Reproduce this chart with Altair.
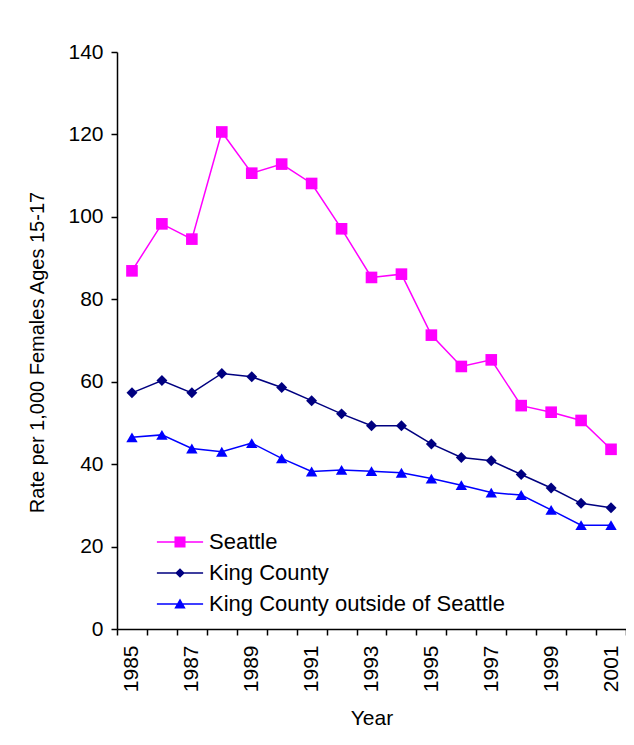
import altair as alt
import pandas as pd

years = list(range(1985, 2002))
seattle = [86.9, 98.3, 94.6, 120.6, 110.6, 112.8, 108.1, 97.1, 85.3, 86.1,
           71.3, 63.7, 65.3, 54.2, 52.6, 50.6, 43.6]
king_county = [57.3, 60.3, 57.3, 62.0, 61.2, 58.6, 55.4, 52.2, 49.3, 49.3,
               44.9, 41.6, 40.8, 37.5, 34.2, 30.5, 29.4]
outside_seattle = [46.5, 47.1, 43.8, 43.0, 45.1, 41.4, 38.2, 38.6, 38.3, 37.9,
                   36.5, 34.9, 33.1, 32.5, 28.9, 25.2, 25.2]
series_names = ["Seattle", "King County", "King County outside of Seattle"]
series_colors = ["#FF00FF", "#000080", "#0000FF"]
marker_shapes = ["square", "diamond", "triangle-up"]
marker_sizes = [135, 120, 130]
y_ticks = [0, 20, 40, 60, 80, 100, 120, 140]

# legend glyphs: a short line with the marker in its middle
LINE = "M-3.85,-0.13H3.85V0.13H-3.85Z "
legend_paths = [
    LINE + "M-0.92,-0.92H0.92V0.92H-0.92Z",
    LINE + "M0,-0.8L0.8,0L0,0.8L-0.8,0Z",
    LINE + "M0,-0.9L0.95,0.75L-0.95,0.75Z",
]

rows = []
for name, vals in zip(series_names, [seattle, king_county, outside_seattle]):
    for yr, v in zip(years, vals):
        rows.append({"Year": yr, "Rate": v, "Series": name})
df = pd.DataFrame(rows)

FONT = "Liberation Sans"

x_enc = alt.X(
    "Year:O",
    scale=alt.Scale(paddingInner=0, paddingOuter=0),
    axis=alt.Axis(
        title="Year",
        labelAngle=270,
        labelExpr="datum.value % 2 == 1 ? datum.label : ''",
        labelOverlap=False,
        tickBand="extent",
        tickSize=6,
        labelPadding=10,
        titlePadding=16,
        labelFontSize=21,
        titleFontSize=21,
    ),
)
y_enc = alt.Y(
    "Rate:Q",
    scale=alt.Scale(domain=[0, 140], nice=False),
    axis=alt.Axis(
        title="Rate per 1,000 Females Ages 15-17",
        values=y_ticks,
        grid=False,
        tickSize=6,
        labelPadding=8,
        titlePadding=20,
        titleY=300,
        labelFontSize=21,
        titleFontSize=20,
    ),
)

base = alt.Chart(df)

layers = []
for name, col in zip(series_names, series_colors):
    layers.append(
        base.transform_filter(alt.datum.Series == name)
        .mark_line(strokeWidth=1.5, color=col)
        .encode(x=x_enc, y=y_enc)
    )
for name, col, shp, sz in zip(series_names, series_colors, marker_shapes, marker_sizes):
    layers.append(
        base.transform_filter(alt.datum.Series == name)
        .mark_point(filled=True, opacity=1, shape=shp, size=sz, color=col)
        .encode(x=x_enc, y=y_enc)
    )

legend_props = dict(
    title=None,
    orient="none",
    legendX=52,
    legendY=479,
    symbolSize=144,
    symbolStrokeWidth=0,
    labelFont=FONT,
    labelFontSize=22,
    labelColor="black",
    labelOffset=18,
    labelLimit=0,
    rowPadding=9,
    padding=0,
)
legend_layer = (
    base.transform_filter("false")
    .mark_point(filled=True, opacity=1)
    .encode(
        x=x_enc, y=y_enc,
        color=alt.Color(
            "Series:N",
            scale=alt.Scale(domain=series_names, range=series_colors),
            legend=alt.Legend(**legend_props),
        ),
        shape=alt.Shape(
            "Series:N",
            scale=alt.Scale(domain=series_names, range=legend_paths),
            legend=alt.Legend(**legend_props),
        ),
    )
)
layers.append(legend_layer)

chart = (
    alt.layer(*layers)
    .properties(
        width=509,
        height=577,
        autosize=alt.AutoSizeParams(type="none"),
        padding={"left": 109, "top": 44, "right": 0, "bottom": 106},
        background="white",
    )
    .configure_view(stroke=None)
    .configure_axis(
        labelFont=FONT,
        titleFont=FONT,
        labelColor="black",
        titleColor="black",
        domainColor="black",
        tickColor="black",
        domainWidth=1.5,
        tickWidth=1.5,
        titleFontWeight="normal",
    )
)

chart.save("out.html", embed_options={"renderer": "svg", "actions": False})
